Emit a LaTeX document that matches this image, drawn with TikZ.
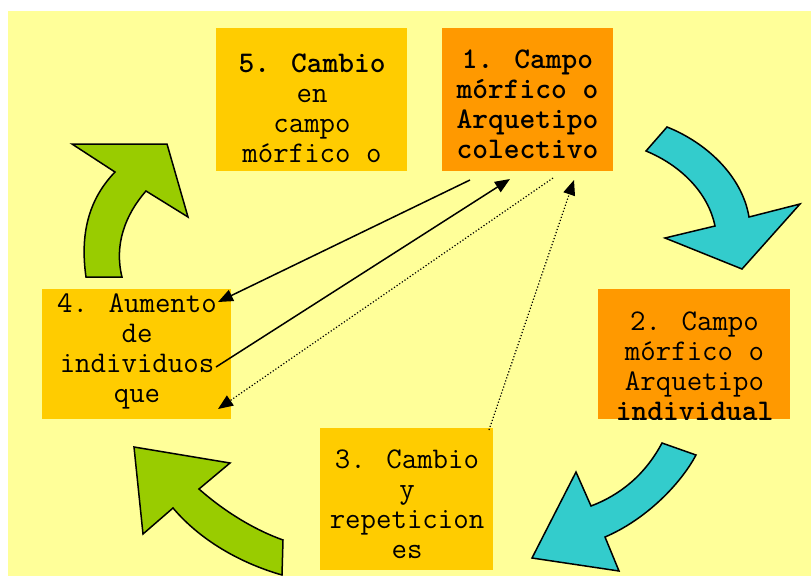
\documentclass[tikz,border=0pt]{standalone}
\usetikzlibrary{arrows.meta}
\definecolor{bg}{HTML}{FFFF99}
\definecolor{boxy}{HTML}{FFCC00}
\definecolor{boxo}{HTML}{FF9900}
\definecolor{grn}{HTML}{99CC00}
\definecolor{cyn}{HTML}{33CCCC}
\tikzset{
  boxnode/.style={inner sep=0, outer sep=0, draw=none, rectangle},
  txt/.style={inner sep=0, outer sep=0, anchor=north, align=center,
    font=\ttfamily\fontsize{30}{30}\selectfont},
  txtb/.style={txt, font=\ttfamily\bfseries\fontsize{30}{30}\selectfont},
  blockarrow/.style={draw=black, line width=1.5pt, line join=miter},
  link/.style={line width=1.5pt, -{Triangle[length=15pt,width=12pt]}},
  dotlink/.style={line width=1.2pt, dotted, -{Triangle[length=15pt,width=12pt]}}
}
\newcommand{\fl}{\rule{0pt}{22pt}}
\begin{document}
\begin{tikzpicture}[x=1pt,y=-1pt]
\useasboundingbox (0,0) rectangle (811,576);
\fill[white] (0,0) rectangle (811,576);
\fill[bg] (8,11) rectangle (811,576);

% boxes
\node[boxnode, fill=boxy, minimum width=191pt, minimum height=143pt] (b5) at (311.5,99.5) {};
\node[boxnode, fill=boxo, minimum width=171pt, minimum height=143pt] (b1) at (527.5,99.5) {};
\node[boxnode, fill=boxo, minimum width=192pt, minimum height=130pt] (b2) at (694,354) {};
\node[boxnode, fill=boxy, minimum width=189pt, minimum height=130pt] (b4) at (136.5,354) {};
\node[boxnode, fill=boxy, minimum width=173pt, minimum height=142pt] (b3) at (406.5,499) {};

% texts
\begin{scope}
\clip (b5.south west) rectangle (b5.north east);
\node[txt] (t5) at (312,50) {\fl\textbf{5. Cambio}\\en\\campo\\mórfico o};
\end{scope}
\begin{scope}
\clip (b1.south west) rectangle (b1.north east);
\node[txtb] (t1) at (527.5,46) {\fl1. Campo\\mórfico o\\Arquetipo\\colectivo};
\end{scope}
\begin{scope}
\clip (b2.south west) rectangle (b2.north east);
\node[txt] (t2) at (694.5,308) {\fl2. Campo\\mórfico o\\Arquetipo\\\textbf{individual}};
\end{scope}
\begin{scope}
\clip (b4.south west) rectangle (b4.north east);
\node[txt] (t4) at (137,290) {\fl4. Aumento\\de\\individuos\\que};
\end{scope}
\begin{scope}
\clip (b3.south west) rectangle (b3.north east);
\node[txt] (t3) at (407,446) {\fl3. Cambio\\y\\repeticion\\es};
\end{scope}

% block arrows
\draw[blockarrow, fill=grn] (86,277) .. controls (80,235) and (88,200) .. (115,172)
  -- (72,144) -- (167,144) -- (188,217) -- (146,191)
  .. controls (125,215) and (114,245) .. (122,277) -- cycle;
\draw[blockarrow, fill=cyn] (667,127) .. controls (705,142) and (742,175) .. (749,217)
  -- (800,204) -- (742,269) -- (665,238) -- (715,226)
  .. controls (708,192) and (680,165) .. (646,151) -- cycle;
\draw[blockarrow, fill=cyn] (696,455) .. controls (680,485) and (645,520) .. (605,537)
  -- (619,571) -- (532,558) -- (576,472) -- (591,506)
  .. controls (620,495) and (645,475) .. (662,443) -- cycle;
\draw[blockarrow, fill=grn] (282,575) .. controls (240,563) and (200,540) .. (173,508)
  -- (143,534) -- (134,447) -- (230,463) -- (199,489)
  .. controls (225,512) and (255,530) .. (283,540) -- cycle;

% connectors
\coordinate (s1) at (470,180);
\coordinate (e1) at (218,302);
\coordinate (s2) at (216,367);
\coordinate (e2) at (510,179);
\coordinate (s3) at (553,178);
\coordinate (e3) at (218,409);
\coordinate (s4) at (489,430);
\coordinate (e4) at (574,180);
\draw[link] (s1) -- (e1);
\draw[link] (s2) -- (e2);
\draw[dotlink] (s3) -- (e3);
\draw[dotlink] (s4) -- (e4);
\end{tikzpicture}
\end{document}
